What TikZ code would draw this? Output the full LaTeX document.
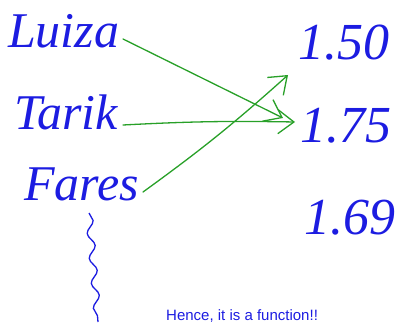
\documentclass[tikz,border=0pt]{standalone}
\usepackage{fontspec}
\setmainfont{Liberation Serif}
\newfontfamily\notefont{Liberation Sans}
\usetikzlibrary{arrows.meta,calc,decorations.pathmorphing}
\definecolor{inkblue}{RGB}{28,28,225}
\definecolor{inkgreen}{RGB}{40,160,40}
\tikzset{
  namebox/.style={inner sep=0pt,anchor=base west,text=inkblue,font=\fontsize{50}{50}\selectfont\itshape},
  valbox/.style={inner sep=0pt,anchor=base west,text=inkblue,font=\fontsize{52}{52}\selectfont\itshape},
  notebox/.style={inner sep=0pt,anchor=base west,text=inkblue,font=\notefont\fontsize{15}{15}\selectfont},
  maparrow/.style={draw=inkgreen,line width=1.3pt,line cap=round,line join=round,-{Straight Barb[length=16pt,width=24pt,line width=1.3pt]}},
  squiggle/.style={draw=inkblue,line width=1.3pt,decorate,decoration={snake,segment length=25pt,amplitude=3.5pt}}
}
\begin{document}
\begin{tikzpicture}[x=1pt,y=-1pt]
\useasboundingbox (0,0) rectangle (401,323);
\node[namebox] (luiza) at (8,48) {Luiza};
\node[namebox] (tarik) at (14,130) {Tarik};
\node[namebox] (fares) at (24,200) {Fares};
\node[valbox] (v150) at (298,60) {1.50};
\node[valbox] (v175) at (300,143) {1.75};
\node[valbox] (v169) at (304,234) {1.69};
\node[notebox] (note) at (166,320) {Hence, it is a function!!};
\coordinate (wtop) at (89,213);
\coordinate (wbot) at (98,322);
\draw[squiggle] (wtop) -- (wbot);
\draw[maparrow] ($(luiza.base west)+(115,-9)$) -- ($(v175.base west)+(-17,-25)$);
\draw[maparrow] ($(tarik.base west)+(109,-5)$) to[bend left=2] ($(v175.base west)+(-5,-21)$);
\draw[maparrow] ($(fares.base west)+(119,-8)$) to[bend right=3] ($(v150.base west)+(-10,15)$);
\end{tikzpicture}
\end{document}
